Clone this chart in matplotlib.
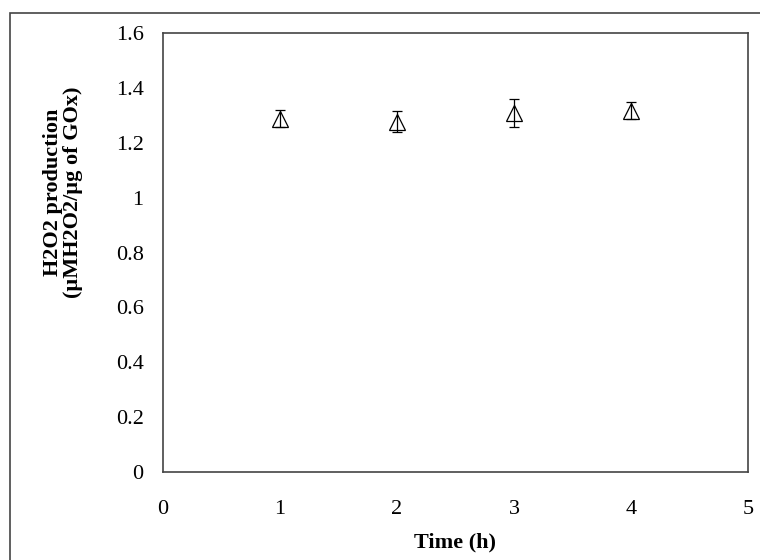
import numpy as np
import matplotlib
matplotlib.use("Agg")
import matplotlib.pyplot as plt
from matplotlib.patches import Rectangle

time_h = [1, 2, 3, 4]
h2o2 = [1.288, 1.277, 1.308, 1.317]
h2o2_err = [0.031, 0.038, 0.051, 0.03]

plt.rcParams["font.family"] = ["Liberation Serif", "DejaVu Serif"]

fig = plt.figure(figsize = (7.6, 5.6), dpi = 100)
ax = fig.add_axes([163/760, 1 - 472/560, (748 - 163)/760, (472 - 33)/560])

# outer frame of the original figure, partly cut off
fig.patches.append(Rectangle((10/760, -0.1), 1.2, 1 - 13/560 + 0.1, transform = fig.transFigure,
                             fill = False, ec = "#444444", lw = 1.2))

ax.errorbar(time_h, h2o2, yerr = h2o2_err, fmt = "^", mfc = "none", mec = "black", ms = 11,
            mew = 0.9, ecolor = "black", elinewidth = 0.9, capsize = 3.5, capthick = 0.9)

ax.set_xlim(0, 5)
ax.set_ylim(0, 1.6)
ax.set_xticks([0, 1, 2, 3, 4, 5])
ax.set_yticks([0, 0.2, 0.4, 0.6, 0.8, 1, 1.2, 1.4, 1.6])
ax.set_yticklabels(["0", "0.2", "0.4", "0.6", "0.8", "1", "1.2", "1.4", "1.6"])
ax.tick_params(axis = "both", length = 0, labelsize = 16)
ax.tick_params(axis = "y", pad = 14)
ax.tick_params(axis = "x", pad = 20)
for s in ax.spines.values():
    s.set_color("#444444")
    s.set_linewidth(1.2)

ax.set_xlabel("Time (h)", fontsize = 16, fontweight = "bold", labelpad = 10)
ax.set_ylabel("H2O2 production\n(\u00b5MH2O2/\u00b5g of GOx)", fontsize = 16, fontweight = "bold",
              linespacing = 1.0)
ax.yaxis.set_label_coords(-0.137, 0.638)

fig.savefig("out.png", dpi = 100)
